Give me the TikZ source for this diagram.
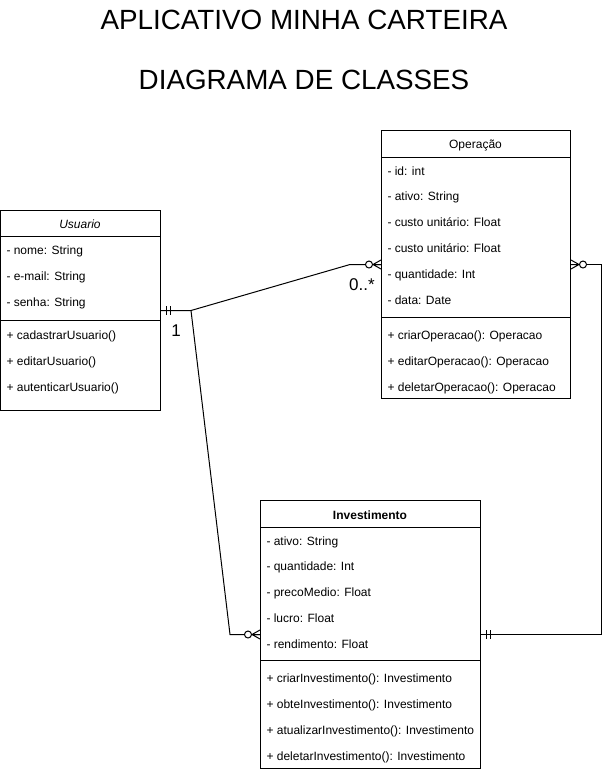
\documentclass[tikz,border=0pt]{standalone}
\usepackage{fontspec}
\setmainfont{Liberation Sans}
\usetikzlibrary{arrows}

\begin{document}
\begin{tikzpicture}[x=1pt, y=-1pt, line width=1pt, font=\fontsize{12}{14}\selectfont]
%% coordinates are taken from the pixel grid of the drawing (y grows downwards)
%% row spacing of the class members is about 26 units
\tikzstyle{classbox}=[draw=black, fill=white, anchor=north west, inner sep=0pt]
\tikzstyle{member}=[anchor=west, inner sep=0pt, text height=9pt, text depth=2.5pt]
\tikzstyle{classname}=[inner sep=0pt, text height=9pt, text depth=2.5pt]
\tikzstyle{bigtitle}=[font=\fontsize{27.8}{30}\selectfont, inner sep=0pt]
\tikzstyle{link}=[draw=black, line width=1pt]
\tikzstyle{mult}=[font=\fontsize{17}{20}\selectfont, inner sep=0pt]
\tikzset{
  zeromany/.pic={\draw (0,-4.5) -- (8,0) -- (0,4.5) (0,0) -- (8,0);
                 \draw[fill=white] (12,0) circle (3.5);},
  onemand/.pic={\draw (5,-4.5) -- (5,4.5) (9,-4.5) -- (9,4.5);}
}
\useasboundingbox (0,0) rectangle (610,772);
%% titles
\node[bigtitle] at (304,20) (title1) {APLICATIVO MINHA CARTEIRA};
\node[bigtitle] at (304,80) (title2) {DIAGRAMA DE CLASSES};
%% class Usuario
\node[classbox, minimum width=160pt, minimum height=200pt] at (0,210) (usuario) {};
\node[classname] at (80,225) (usuario-name) {\itshape Usuario};
\draw (0,236) -- (160,236);
\draw (0,320) -- (160,320);
\foreach \txt [count=\i] in {- nome: String, - e-mail: String, - senha: String}
  \node[member] at (6,{225+26*\i}) (usuario-a\i) {\txt};
\foreach \txt [count=\i] in {+ cadastrarUsuario(), + editarUsuario(), + autenticarUsuario()}
  \node[member] at (6,{310+26*\i}) (usuario-m\i) {\txt};
%% class Operacao
\node[classbox, minimum width=189pt, minimum height=268pt] at (381,130) (operacao) {};
\node[classname] at (475.5,145) (operacao-name) {Operação};
\draw (381,157) -- (570,157);
\draw (381,317) -- (570,317);
\foreach \txt [count=\i] in {- id: int, - ativo: String, - custo unitário: Float,
    - custo unitário: Float, - quantidade: Int, - data: Date}
  \node[member] at (387,{146+25.8*\i}) (operacao-a\i) {\txt};
\foreach \txt [count=\i] in {+ criarOperacao(): Operacao, + editarOperacao(): Operacao,
    + deletarOperacao(): Operacao}
  \node[member] at (387,{310+26*\i}) (operacao-m\i) {\txt};
%% class Investimento
\node[classbox, minimum width=220pt, minimum height=268pt] at (260,500) (investimento) {};
\node[classname] at (370,516) (investimento-name) {\bfseries Investimento};
\draw (260,527) -- (480,527);
\draw (260,660) -- (480,660);
\foreach \txt [count=\i] in {- ativo: String, - quantidade: Int, - precoMedio: Float,
    - lucro: Float, - rendimento: Float}
  \node[member] at (266,{516+25.8*\i}) (investimento-a\i) {\txt};
\foreach \txt [count=\i] in {+ criarInvestimento(): Investimento, + obteInvestimento(): Investimento,
    + atualizarInvestimento(): Investimento, + deletarInvestimento(): Investimento}
  \node[member] at (266,{653+26*\i}) (investimento-m\i) {\txt};
%% relations
\draw[link] (usuario.east) -- ++(30,0) coordinate (fork)
  -- ([xshift=-31pt]operacao.west) -- (operacao.west);
\draw[link] (fork) -- ([xshift=-30pt]investimento.west) -- (investimento.west);
\draw[link] (investimento.east) -- ++(120,0) |- (operacao.east);
%% relation ends
\pic at (usuario.east) {onemand};
\pic at (investimento.east) {onemand};
\pic[rotate=180] at (operacao.west) {zeromany};
\pic at (operacao.east) {zeromany};
\pic[rotate=180] at (investimento.west) {zeromany};
%% multiplicities
\node[mult] at (176,331) (mult-one) {1};
\node[mult] at (362,285) (mult-many) {0..*};
\end{tikzpicture}
\end{document}
